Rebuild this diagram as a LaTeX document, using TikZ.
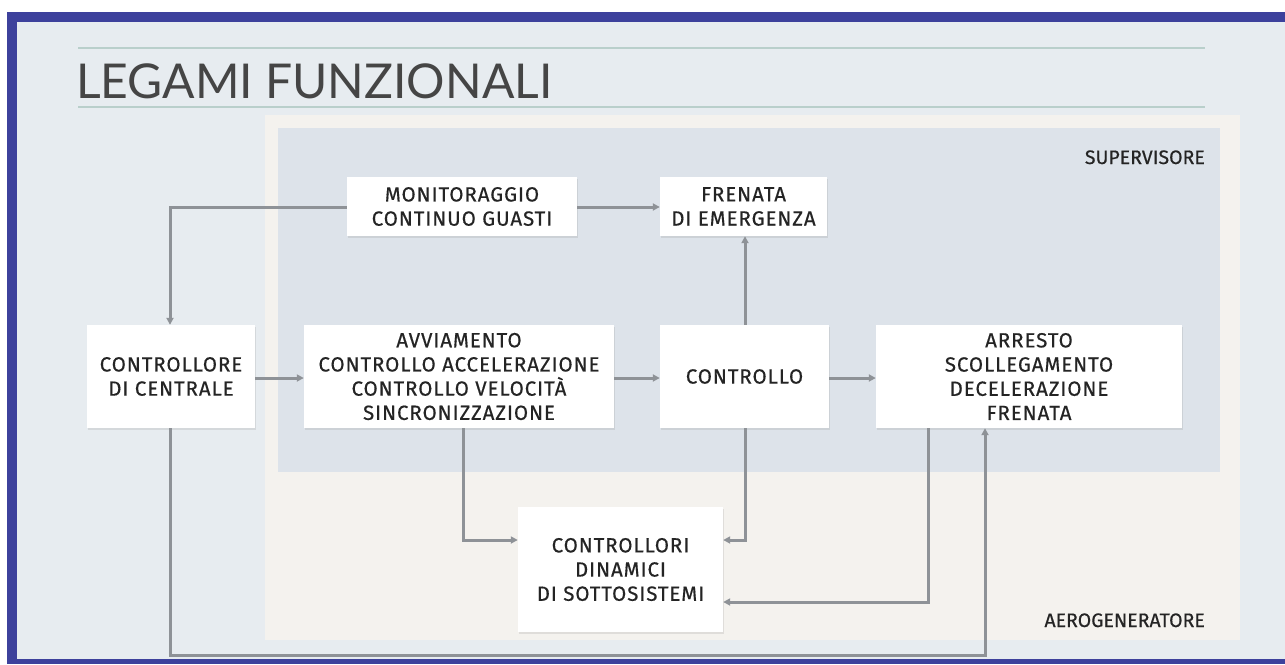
\documentclass[tikz,border=0pt]{standalone}
\usepackage{fontspec}
\setmainfont{Fira Sans}
\newfontfamily\titlefont{Lato}
\newfontfamily\boxfont{Fira Sans}[FakeBold=0.5,LetterSpace=4.5]
\newfontfamily\lblfont{Fira Sans}[FakeBold=0.5]
\usetikzlibrary{arrows.meta,shadows}
\definecolor{frameblue}{HTML}{3D419C}
\definecolor{bgpage}{HTML}{E7ECF0}
\definecolor{aero}{HTML}{F4F2EE}
\definecolor{superv}{HTML}{DDE3EA}
\definecolor{rule}{HTML}{B9CFCB}
\definecolor{conn}{HTML}{8E9297}
\definecolor{txt}{HTML}{242424}
\tikzset{
  blk/.style={fill=white, draw=none, text=txt, align=center, inner sep=0pt,
    font=\boxfont\fontsize{20.5}{24.2}\selectfont,
    drop shadow={shadow xshift=1pt, shadow yshift=-2pt, opacity=0.18, fill=gray}},
  conn/.style={draw=conn, line width=3pt, -{Triangle[length=7pt,width=7pt]}},
  lbl/.style={text=txt, font=\lblfont\fontsize{19.5}{22}\selectfont, inner sep=0pt},
}
\begin{document}
\begin{tikzpicture}[x=1pt,y=-1pt]
\useasboundingbox (0,0) rectangle (1285,664);
% page
\fill[white] (0,0) rectangle (1285,664);
\fill[bgpage] (7,12) rectangle (1285,664);
\fill[frameblue] (7,12) rectangle (1285,22);
\fill[frameblue] (7,12) rectangle (17,664);
\fill[frameblue] (7,659) rectangle (1285,664);
% title
\draw[rule, line width=1.2pt] (78,48) -- (1205,48);
\draw[rule, line width=1.2pt] (78,107) -- (1205,107);
\node[anchor=base west, inner sep=0pt, text=txt!85, font=\titlefont\fontsize{48}{52}\selectfont] (title) at (76,98) {LEGAMI FUNZIONALI};
% panels
\fill[aero] (265,115) rectangle (1240,640);
\fill[superv] (278,128) rectangle (1220,472);
\node[lbl, anchor=base east] (sup) at (1205,164) {SUPERVISORE};
\node[lbl, anchor=base east] (aer) at (1205,627) {AEROGENERATORE};
% boxes
\node[blk, minimum width=230, minimum height=59] (mon) at (462,206.5) {MONITORAGGIO\\CONTINUO GUASTI};
\node[blk, minimum width=167, minimum height=59] (fre) at (743.5,206.5) {FRENATA\\DI EMERGENZA};
\node[blk, minimum width=168, minimum height=103] (cc) at (171,376.5) {CONTROLLORE\\DI CENTRALE};
\node[blk, minimum width=310, minimum height=103] (avv) at (459,376.5) {AVVIAMENTO\\CONTROLLO ACCELERAZIONE\\CONTROLLO VELOCITÀ\\SINCRONIZZAZIONE};
\node[blk, minimum width=169, minimum height=103] (ctl) at (744.5,376.5) {CONTROLLO};
\node[blk, minimum width=306, minimum height=103] (arr) at (1029,376.5) {ARRESTO\\SCOLLEGAMENTO\\DECELERAZIONE\\FRENATA};
\node[blk, minimum width=205, minimum height=125] (cds) at (620.5,569.5) {CONTROLLORI\\DINAMICI\\DI SOTTOSISTEMI};
% coordinates for bends
\coordinate (c1) at (170,207);
\coordinate (c7) at (463,540);
\coordinate (c8) at (745,540);
\coordinate (c9) at (928,602);
\coordinate (c10a) at (170,655);
\coordinate (c10b) at (985,655);
% connectors
\draw[conn] (mon.west |- 0,207) -- (c1) -- (cc.north -| c1);
\draw[conn] (mon.east |- 0,207) -- (fre.west |- 0,207);
\draw[conn] (cc.east |- 0,378) -- (avv.west |- 0,378);
\draw[conn] (avv.east |- 0,378) -- (ctl.west |- 0,378);
\draw[conn] (ctl.north -| c8) -- (fre.south -| c8);
\draw[conn] (ctl.east |- 0,378) -- (arr.west |- 0,378);
\draw[conn] (avv.south -| c7) -- (c7) -- (cds.west |- c7);
\draw[conn] (ctl.south -| c8) -- (c8) -- (cds.east |- c8);
\draw[conn] (arr.south -| c9) -- (c9) -- (cds.east |- c9);
\draw[conn] (cc.south -| c10a) -- (c10a) -- (c10b) -- (arr.south -| c10b);
\end{tikzpicture}
\end{document}
